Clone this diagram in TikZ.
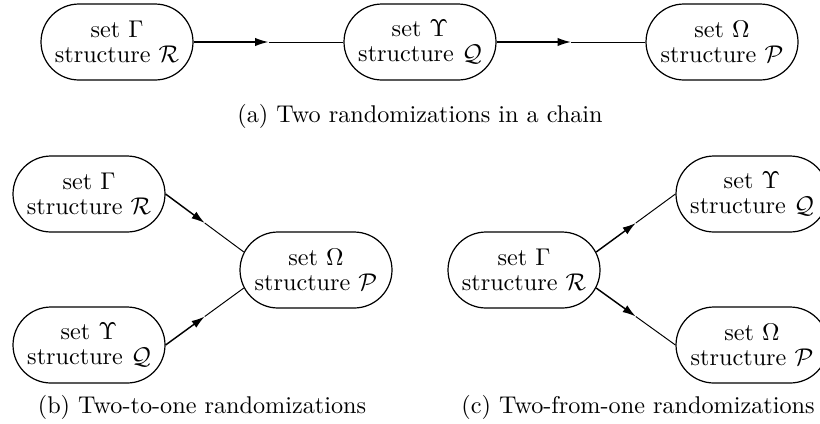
\documentclass[tikz,border=0pt]{standalone}
\usetikzlibrary{shapes.misc,arrows.meta}
\begin{document}
\begin{tikzpicture}[x=0.4132pt,y=-0.4132pt,
  box/.style={draw,line width=0.5pt,rounded rectangle,minimum width=62.8pt,minimum height=31.4pt,inner sep=0pt,align=center,font=\fontsize{10}{10.6}\selectfont},
  captext/.style={anchor=base,inner sep=0pt,font=\fontsize{10}{12}\selectfont},
  firsthalf/.style={line width=0.6pt,-{Latex[length=5.5pt,width=3.4pt]}},
  secondhalf/.style={line width=0.4pt}]
\useasboundingbox (0,0) rectangle (820,423);
% (a)
\node[box] (a1) at (117,42) {set $\Gamma$\\structure $\mathcal{R}$};
\node[box] (a2) at (420,42) {set $\Upsilon$\\structure $\mathcal{Q}$};
\node[box] (a3) at (722,42) {set $\Omega$\\structure $\mathcal{P}$};
\node[captext] (capa) at (420,122) {(a) Two randomizations in a chain};
\path (a1.east) -- coordinate[pos=0.5] (ma1) (a2.west);
\draw[firsthalf] (a1.east) -- (ma1);
\draw[secondhalf] (ma1) -- (a2.west);
\path (a2.east) -- coordinate[pos=0.5] (ma2) (a3.west);
\draw[firsthalf] (a2.east) -- (ma2);
\draw[secondhalf] (ma2) -- (a3.west);
% (b)
\node[box] (b1) at (89,194) {set $\Gamma$\\structure $\mathcal{R}$};
\node[box] (b2) at (89,345) {set $\Upsilon$\\structure $\mathcal{Q}$};
\node[box] (b3) at (316,270) {set $\Omega$\\structure $\mathcal{P}$};
\node[captext] (capb) at (202,413) {(b) Two-to-one randomizations};
\path (b1.east) -- coordinate[pos=0.5] (mb1) (b3.166);
\draw[firsthalf] (b1.east) -- (mb1);
\draw[secondhalf] (mb1) -- (b3.166);
\path (b2.east) -- coordinate[pos=0.5] (mb2) (b3.194);
\draw[firsthalf] (b2.east) -- (mb2);
\draw[secondhalf] (mb2) -- (b3.194);
% (c)
\node[box] (c1) at (524,270) {set $\Gamma$\\structure $\mathcal{R}$};
\node[box] (c2) at (752,194) {set $\Upsilon$\\structure $\mathcal{Q}$};
\node[box] (c3) at (752,345) {set $\Omega$\\structure $\mathcal{P}$};
\node[captext] (capc) at (638,413) {(c) Two-from-one randomizations};
\path (c1.14) -- coordinate[pos=0.5] (mc1) (c2.west);
\draw[firsthalf] (c1.14) -- (mc1);
\draw[secondhalf] (mc1) -- (c2.west);
\path (c1.-14) -- coordinate[pos=0.5] (mc2) (c3.west);
\draw[firsthalf] (c1.-14) -- (mc2);
\draw[secondhalf] (mc2) -- (c3.west);
\end{tikzpicture}
\end{document}
